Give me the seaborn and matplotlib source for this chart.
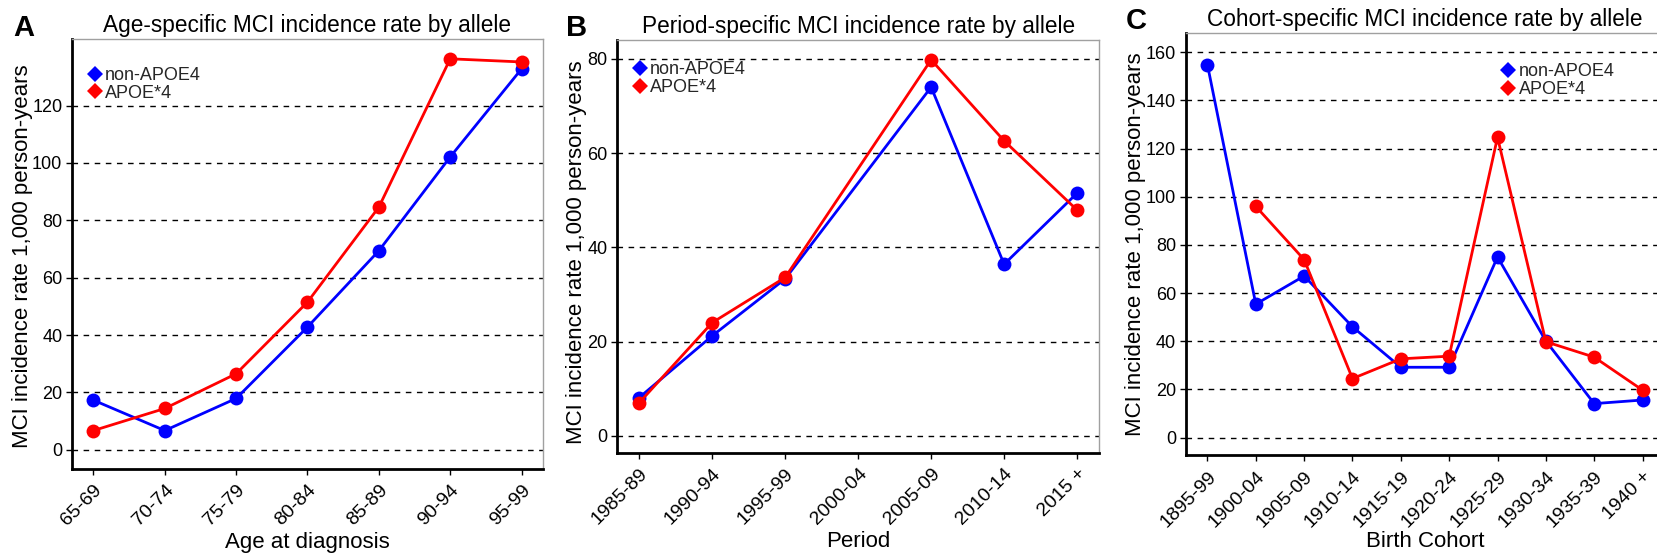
import numpy as np
import pandas as pd
import matplotlib
matplotlib.use("Agg")
import matplotlib.pyplot as plt
from matplotlib.lines import Line2D
import seaborn as sns

# ---------------- data ----------------
age_groups = ["65-69", "70-74", "75-79", "80-84", "85-89", "90-94", "95-99"]
age_non_apoe4 = [17.3, 6.7, 17.9, 42.8, 69.4, 102.1, 132.8]
age_apoe4 = [6.7, 14.4, 26.5, 51.5, 84.6, 136.3, 135.2]

periods = ["1985-89", "1990-94", "1995-99", "2000-04", "2005-09", "2010-14", "2015 +"]
period_non_apoe4 = [8.1, 21.2, 33.3, np.nan, 74.0, 36.4, 51.5]
period_apoe4 = [7.0, 24.0, 33.6, np.nan, 79.8, 62.6, 47.9]

cohorts = ["1895-99", "1900-04", "1905-09", "1910-14", "1915-19",
           "1920-24", "1925-29", "1930-34", "1935-39", "1940 +"]
cohort_non_apoe4 = [154.8, 55.4, 67.1, 46.0, 29.2, 29.2, 75.0, 40.1, 14.1, 15.6]
cohort_apoe4 = [np.nan, 96.0, 73.9, 24.5, 32.7, 33.8, 124.7, 39.8, 33.4, 19.7]

alleles = ["non-APOE4", "APOE*4"]
colors = {"non-APOE4": "#0000FF", "APOE*4": "#FF0000"}

titles = ["Age-specific MCI incidence rate by allele",
          "Period-specific MCI incidence rate by allele",
          "Cohort-specific MCI incidence rate by allele"]
xlabels = ["Age at diagnosis", "Period", "Birth Cohort"]
ylabel = "MCI incidence rate 1,000 person-years"
letters = ["A", "B", "C"]

# ---------------- style ----------------
sns.set_theme(style="white")
plt.rcParams["font.family"] = ["Liberation Sans", "DejaVu Sans"]

W, H = 1658, 555
fig = plt.figure(figsize=(W / 100, H / 100), dpi=100)


def frac_box(left, right, top, bottom):
    return [left / W, (H - bottom) / H, (right - left) / W, (bottom - top) / H]


panels = [
    dict(cats=age_groups, non=age_non_apoe4, apo=age_apoe4,
         box=frac_box(72, 543, 39.3, 469.3), xlim=(-0.3, 6.3), ylim=(-6.8, 143.1),
         yticks=[0, 20, 40, 60, 80, 100, 120], ylab=(-0.083, 0.495), xlab_y=-0.145,
         leg=(0.029, 0.936), letter=(13, 36)),
    dict(cats=periods, non=period_non_apoe4, apo=period_apoe4,
         box=frac_box(617.3, 1099, 40, 452.7), xlim=(-0.3, 6.3), ylim=(-3.6, 84.0),
         yticks=[0, 20, 40, 60, 80], ylab=(-0.062, 0.485), xlab_y=-0.19,
         leg=(0.028, 0.948), letter=(566, 35.5)),
    dict(cats=cohorts, non=cohort_non_apoe4, apo=cohort_apoe4,
         box=frac_box(1185.7, 1664.3, 33, 455.4), xlim=(-0.45, 9.45), ylim=(-7.4, 168),
         yticks=[0, 20, 40, 60, 80, 100, 120, 140, 160], ylab=(-0.082, 0.499), xlab_y=-0.18,
         leg=(0.655, 0.928), letter=(1126, 28.6)),
]

for i, p in enumerate(panels):
    ax = fig.add_axes(p["box"])
    pos = np.arange(len(p["cats"]))
    df = pd.DataFrame({
        "pos": np.concatenate([pos, pos]),
        "rate": np.concatenate([p["non"], p["apo"]]),
        "allele": [alleles[0]] * len(pos) + [alleles[1]] * len(pos),
    }).dropna()

    for yv in p["yticks"]:
        ax.axhline(yv, color="black", lw=1.0, ls=(0, (4, 4)), zorder=1)

    sns.lineplot(data=df, x="pos", y="rate", hue="allele", hue_order=alleles,
                 palette=colors, marker="o", markersize=10, markeredgewidth=0,
                 linewidth=2.0, ax=ax, legend=False, sort=False, zorder=3)

    ax.set_xlim(*p["xlim"])
    ax.set_ylim(*p["ylim"])
    ax.set_xticks(pos)
    ax.set_xticklabels(p["cats"], rotation=45, ha="right", rotation_mode="anchor",
                       fontsize=14, color="black")
    ax.set_yticks(p["yticks"])
    ax.set_yticklabels([str(v) for v in p["yticks"]], fontsize=13, color="black")
    ax.tick_params(axis="both", which="major", length=4, width=1, color="black",
                   bottom=True, left=True)
    ax.tick_params(axis="y", pad=3)
    ax.tick_params(axis="x", pad=5)

    ax.set_title(titles[i], fontsize=16.3, pad=5, color="black")
    ax.set_xlabel(xlabels[i], fontsize=16, color="black")
    ax.set_ylabel(ylabel, fontsize=16, color="black")
    ax.xaxis.set_label_coords(0.5, p["xlab_y"])
    ax.yaxis.set_label_coords(*p["ylab"])

    for s in ["left", "bottom"]:
        ax.spines[s].set_color("black")
        ax.spines[s].set_linewidth(2.0)
    for s in ["top", "right"]:
        ax.spines[s].set_color("#a0a0a0")
        ax.spines[s].set_linewidth(1.0)
    ax.set_facecolor("white")

    handles = [Line2D([], [], marker="D", color=colors[a], linestyle="none",
                      markersize=8, markeredgewidth=0) for a in alleles]
    ax.legend(handles, alleles, loc="upper left", bbox_to_anchor=p["leg"],
              frameon=False, fontsize=13, handlelength=1.0, handletextpad=0.08,
              labelspacing=0.05, borderpad=0, borderaxespad=0)

    lx, ly = p["letter"]
    fig.text(lx / W, 1 - ly / H, letters[i], fontsize=21, fontweight="bold",
             va="baseline", ha="left", color="black")

fig.savefig("out.png", dpi=100, facecolor="white")
